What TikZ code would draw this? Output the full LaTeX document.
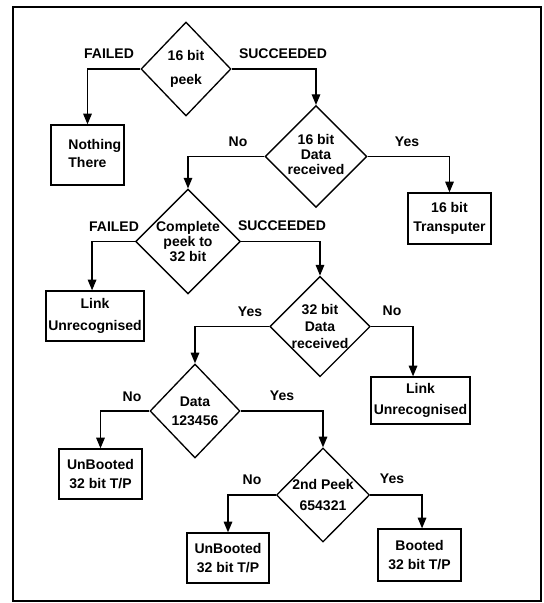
\documentclass[tikz,border=0pt]{standalone}
\usepackage{fontspec}
\setmainfont{Liberation Sans}
\usetikzlibrary{shapes.geometric,arrows.meta}

\tikzset{
  decision/.style={diamond, draw, line width=1pt, inner sep=0pt,
    minimum width=90*0.75pt, minimum height=94*0.75pt, align=center,
    font=\bfseries\fontsize{10.5}{13}\selectfont},
  outcome/.style={rectangle, draw, line width=1pt, inner sep=0pt,
    align=center, font=\bfseries\fontsize{10.5}{14}\selectfont},
  branch/.style={font=\bfseries\fontsize{10.5}{12}\selectfont, inner sep=0pt},
  flow/.style={line width=1pt, -{Triangle[length=8pt,width=6.4pt]}},
}

\begin{document}
\begin{tikzpicture}[x=0.75pt, y=-0.75pt]
\useasboundingbox (0,0) rectangle (543,603);
\draw[line width=1.6pt] (13,7) rectangle (541,601);

% decisions
\node[decision] (d1) at (186,69)    {16 bit\\[5pt]peek};
\node[decision] (d2) at (316,156.5) {\raisebox{3pt}{\shortstack{16 bit\\[1pt]Data\\[1pt]received}}};
\node[decision] (d3) at (188,241.5) {Complete\\[-1.5pt]peek to\\[-1.5pt]32 bit};
\node[decision] (d4) at (320,326.5) {32 bit\\[-0.5pt]Data\\[-0.5pt]received};
\node[decision] (d5) at (195,411)   {Data\\[1pt]123456};
\node[decision] (d6) at (323,495)   {2nd Peek\\[3pt]654321};

% outcomes
\node[outcome, align=left, minimum width=73*0.75pt, minimum height=60*0.75pt]
  (b1) at (87.5,155) {\hspace*{11pt}\begin{tabular}{@{}l@{}}Nothing\\[-0.5pt]There\end{tabular}};
\node[outcome, minimum width=83*0.75pt, minimum height=51*0.75pt]
  (b2) at (449.5,218.5) {16 bit\\Transputer};
\node[outcome, minimum width=98*0.75pt, minimum height=50*0.75pt]
  (b3) at (95,316) {Link\\[2pt]Unrecognised};
\node[outcome, minimum width=99*0.75pt, minimum height=47*0.75pt]
  (b4) at (420.5,400.5) {Link\\[2pt]Unrecognised};
\node[outcome, minimum width=83*0.75pt, minimum height=50*0.75pt]
  (b5) at (100.5,474) {UnBooted\\32 bit T/P};
\node[outcome, minimum width=82*0.75pt, minimum height=50*0.75pt]
  (b6) at (228,558) {UnBooted\\32 bit T/P};
\node[outcome, minimum width=83*0.75pt, minimum height=52*0.75pt]
  (b7) at (419.5,555) {Booted\\32 bit T/P};

% connectors
\draw[flow] (d1.west) -| (b1.north);
\draw[flow] (d1.east) -| (d2.north);
\draw[flow] (d2.west) -| (d3.north);
\draw[flow] (d2.east) -| (b2.north);
\draw[flow] (d3.west) -| ([xshift=-2.2pt]b3.north);
\draw[flow] (d3.east) -| (d4.north);
\draw[flow] (d4.west) -| (d5.north);
\draw[flow] (d4.east) -| ([xshift=-5.6pt]b4.north);
\draw[flow] (d5.west) -| (b5.north);
\draw[flow] (d5.east) -| (d6.north);
\draw[flow] (d6.west) -| (b6.north);
\draw[flow] (d6.east) -| ([xshift=1.9pt]b7.north);

% branch labels
\node[branch] (l1)  at (109,54)  {FAILED};
\node[branch] (l2)  at (283,54)  {SUCCEEDED};
\node[branch] (l3)  at (238,142) {No};
\node[branch] (l4)  at (407,142) {Yes};
\node[branch] (l5)  at (114,227) {FAILED};
\node[branch] (l6)  at (282,226) {SUCCEEDED};
\node[branch] (l7)  at (250,312) {Yes};
\node[branch] (l8)  at (392,311) {No};
\node[branch] (l9)  at (132,397) {No};
\node[branch] (l10) at (282,396) {Yes};
\node[branch] (l11) at (252,480) {No};
\node[branch] (l12) at (392,479) {Yes};
\end{tikzpicture}
\end{document}
